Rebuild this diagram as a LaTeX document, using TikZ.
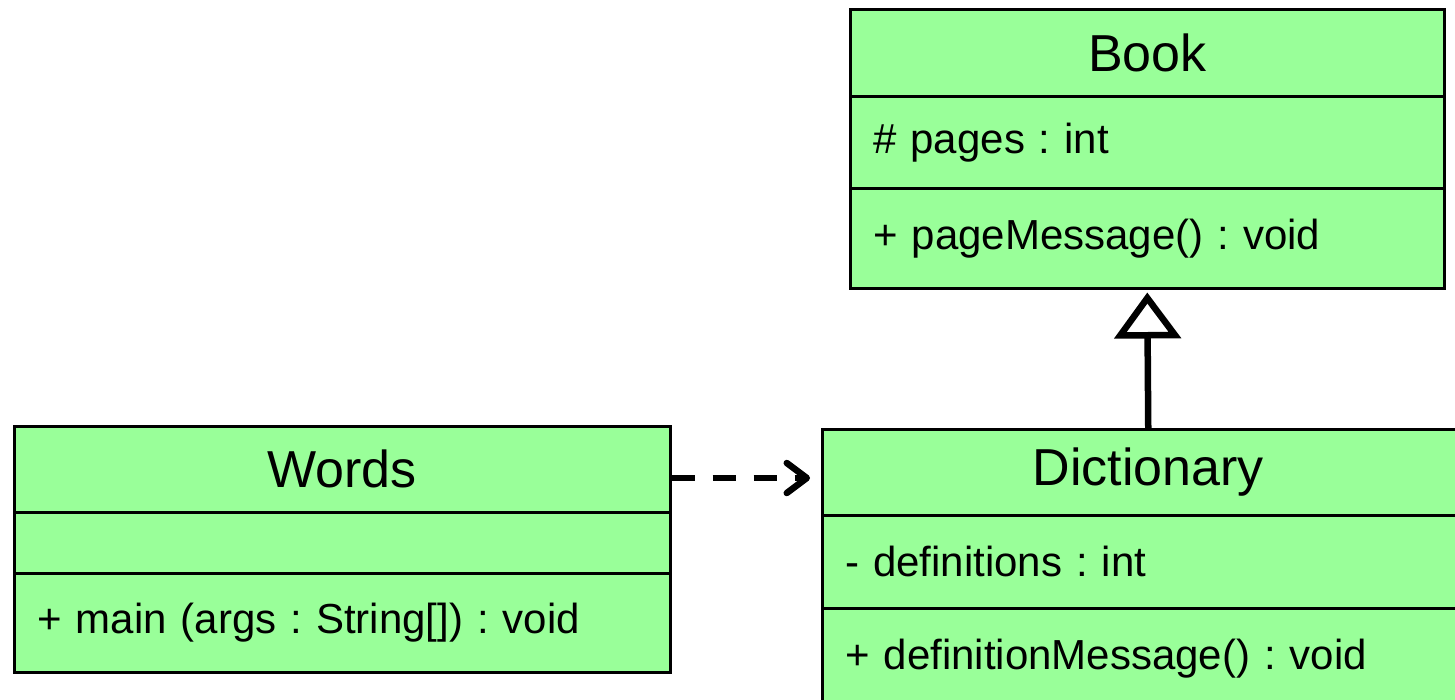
\documentclass[tikz,border=0pt]{standalone}
\usepackage{fontspec}
\setmainfont{Liberation Sans}
\usetikzlibrary{arrows.meta,calc}
\definecolor{classfill}{RGB}{153,255,153}
\frenchspacing
\tikzset{
  cell/.style={draw=black, fill=classfill, line width=2.5pt, inner sep=0pt, anchor=north west},
  namecell/.style={cell, font=\fontsize{52}{60}\selectfont},
  membercell/.style={cell, font=\fontsize{42}{50}\selectfont, align=left, inner xsep=23pt},
  heavy/.style={line width=6.5pt, draw=black},
}
\begin{document}
\begin{tikzpicture}[x=1pt, y=-1pt]
  \clip (0,0) rectangle (1455,699);
  \fill[white] (0,0) rectangle (1455,699);

  % Book
  \node[namecell, minimum width=594pt, minimum height=87pt] (book-name) at (849,8) {Book};
  \node[membercell, text width=548pt, minimum height=92pt] (book-attr) at (849,95) {\# pages : int};
  \node[membercell, text width=548pt, minimum height=100pt] (book-meth) at (849,187) {+ pageMessage() : void};

  % Dictionary
  \node[namecell, minimum width=652pt, minimum height=86pt] (dict-name) at (821,428) {Dictionary};
  \node[membercell, text width=606pt, minimum height=93pt] (dict-attr) at (821,514) {- definitions : int};
  \node[membercell, text width=606pt, minimum height=100pt] (dict-meth) at (821,607) {+ definitionMessage() : void};

  % Words
  \node[namecell, minimum width=656pt, minimum height=86pt] (words-name) at (13,425) {Words};
  \node[membercell, text width=610pt, minimum height=61pt] (words-attr) at (13,511) {};
  \node[membercell, text width=610pt, minimum height=99pt] (words-meth) at (13,572) {+ main (args : String[]) : void};

  % Inheritance: Dictionary extends Book
  \draw[heavy, shorten >=3pt, -{Triangle[open, length=46pt, width=66pt]}]
    (dict-name.north) -- (book-meth.south);

  % Dependency: Words uses Dictionary
  \coordinate (dep-start) at (words-name.east |- 0,478);
  \coordinate (dep-end) at (dict-name.west |- 0,478);
  \draw[heavy, dash pattern=on 23pt off 18pt, shorten >=11pt,
        -{Straight Barb[length=20pt, width=30pt, round]}]
    (dep-start) -- (dep-end);
\end{tikzpicture}
\end{document}
